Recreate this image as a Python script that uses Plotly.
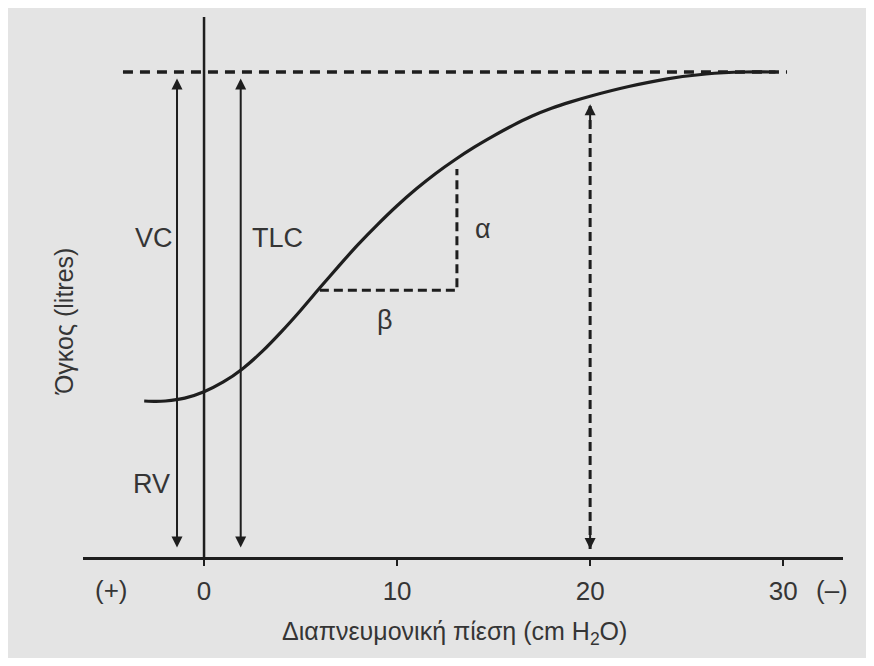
import plotly.graph_objects as go

# Pressure–volume curve (transpulmonary pressure vs lung volume)
pressure = [-3.1, -2.5, -2, -1, 0, 1, 2, 3, 4, 5, 6, 7, 8, 9, 10, 11, 12, 13, 14,
            15, 16, 17, 18, 19, 20, 22, 24, 26, 28, 29.6]
volume = [1.93, 1.925, 1.93, 1.965, 2.045, 2.165, 2.33, 2.54, 2.785, 3.05, 3.33,
          3.605, 3.87, 4.115, 4.345, 4.555, 4.745, 4.915, 5.07, 5.21, 5.34, 5.455,
          5.55, 5.63, 5.70, 5.82, 5.915, 5.975, 6.0, 6.0]

tick_vals = [0, 10, 20, 30]
tick_text = ["0", "10", "20", "30"]

tlc_level = 6.0
tlc_line_x = [-4.2, 30.2]
vc_x = -1.4
tlc_x = 1.9
arrow_top = 5.92
arrow_bottom = 0.1
dashed_arrow_x = 20
dashed_arrow_top = 5.6
slope_x = [6.0, 13.1]
slope_y = [3.3, 4.8]
zero_line_y = [0, 6.68]

INK = "#1e1e1e"
TXT = "#353535"
BG = "#e4e4e4"
FONT = "Liberation Sans, Arial, sans-serif"

fig = go.Figure()

# TLC dashed level
fig.add_trace(go.Scatter(x=tlc_line_x, y=[tlc_level, tlc_level], mode="lines",
                         line=dict(color=INK, width=3.5, dash="10px,7px"), hoverinfo="skip"))
# zero pressure line
fig.add_trace(go.Scatter(x=[0, 0], y=zero_line_y, mode="lines",
                         line=dict(color=INK, width=2.5), hoverinfo="skip"))
# slope triangle
fig.add_trace(go.Scatter(x=[slope_x[0], slope_x[1], slope_x[1]],
                         y=[slope_y[0], slope_y[0], slope_y[1]], mode="lines",
                         line=dict(color=INK, width=3, dash="9px,5px"), hoverinfo="skip"))
# dashed arrow at 20
fig.add_trace(go.Scatter(x=[dashed_arrow_x, dashed_arrow_x], y=[arrow_bottom, dashed_arrow_top],
                         mode="lines", line=dict(color=INK, width=3, dash="9px,5px"),
                         hoverinfo="skip"))
# curve
fig.add_trace(go.Scatter(x=pressure, y=volume, mode="lines",
                         line=dict(color=INK, width=3.2, shape="spline", smoothing=0.6),
                         hoverinfo="skip"))

annotations = []
# double-headed arrows VC and TLC
for xx in (vc_x, tlc_x):
    annotations.append(dict(x=xx, y=arrow_top, ax=xx, ay=arrow_bottom, xref="x", yref="y",
                            axref="x", ayref="y", text="", showarrow=True,
                            arrowside="end+start", arrowhead=2, arrowsize=1.1,
                            arrowwidth=2, arrowcolor=INK, standoff=0, startstandoff=0))
# heads of dashed arrow
annotations.append(dict(x=dashed_arrow_x, y=dashed_arrow_top, ax=dashed_arrow_x,
                        ay=dashed_arrow_top - 0.3, xref="x", yref="y", axref="x", ayref="y",
                        text="", showarrow=True, arrowhead=2, arrowsize=1.1, arrowwidth=2,
                        arrowcolor=INK, standoff=0))
annotations.append(dict(x=dashed_arrow_x, y=arrow_bottom, ax=dashed_arrow_x,
                        ay=arrow_bottom + 0.3, xref="x", yref="y", axref="x", ayref="y",
                        text="", showarrow=True, arrowhead=2, arrowsize=1.1, arrowwidth=2,
                        arrowcolor=INK, standoff=0))

labels = [("VC", -2.6, 3.95), ("TLC", 3.8, 3.95), ("RV", -2.7, 0.9),
          ("α", 14.45, 4.06), ("β", 9.4, 2.93)]
for t, xx, yy in labels:
    annotations.append(dict(x=xx, y=yy, xref="x", yref="y", text=t, showarrow=False,
                            xanchor="center", yanchor="middle",
                            font=dict(family=FONT, size=27, color=TXT)))

annotations.append(dict(x=-4.77, y=-0.0609, xref="x", yref="paper", text="(+)",
                        xanchor="center", yanchor="middle", showarrow=False,
                        font=dict(family=FONT, size=26, color=TXT)))
annotations.append(dict(x=32.55, y=-0.0609, xref="x", yref="paper", text="(–)",
                        xanchor="center", yanchor="middle", showarrow=False,
                        font=dict(family=FONT, size=26, color=TXT)))
annotations.append(dict(x=0.489, y=-0.140, xref="paper", yref="paper",
                        xanchor="center", yanchor="middle",
                        text="Διαπνευμονική πίεση (cm H<sub>2</sub>O)", showarrow=False,
                        font=dict(family=FONT, size=25, color=TXT)))
annotations.append(dict(x=-0.025, y=0.4336, xref="paper", yref="paper", text="Όγκος (litres)",
                        xanchor="center", yanchor="middle",
                        textangle=-90, showarrow=False,
                        font=dict(family=FONT, size=25, color=TXT)))

fig.update_layout(
    width=858, height=650,
    margin=dict(l=75, r=23, t=7, b=101),
    paper_bgcolor=BG,
    plot_bgcolor=BG,
    showlegend=False,
    annotations=annotations,
    xaxis=dict(range=[-6.27, 33.1], showgrid=False, zeroline=False, showline=True,
               linecolor=INK, linewidth=2.5, ticks="outside", ticklen=6, tickwidth=2,
               tickcolor=INK, tickvals=tick_vals, ticktext=tick_text,
               ticklabelstandoff=3,
               tickfont=dict(family=FONT, size=26, color=TXT)),
    yaxis=dict(range=[0, 6.705], showgrid=False, zeroline=False, showline=False,
               showticklabels=False, ticks=""),
)

fig.write_html("out.html")
